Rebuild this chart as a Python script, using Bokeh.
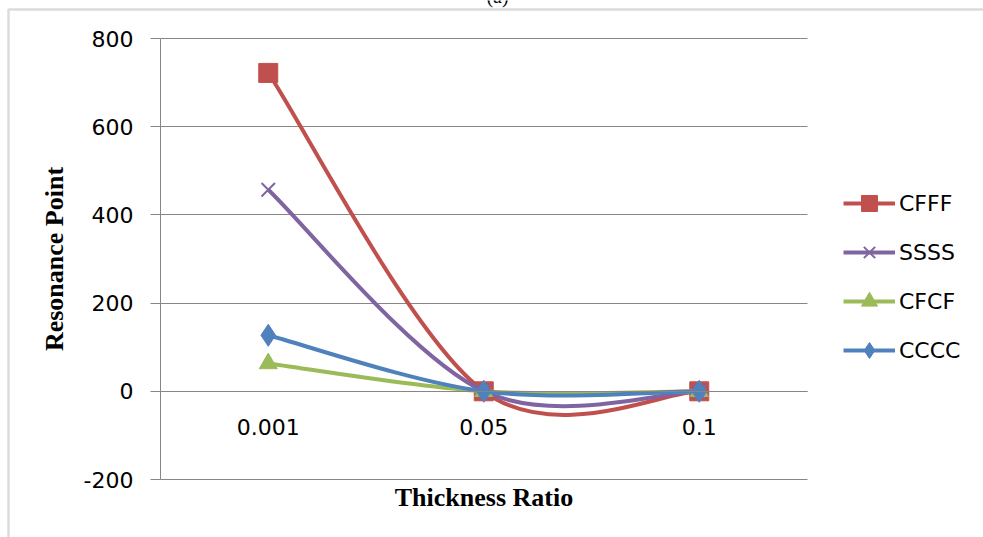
import numpy as np
from bokeh.plotting import figure
from bokeh.models import (ColumnDataSource, FixedTicker, LinearAxis, Legend, LegendItem,
                          Range1d, Label, BoxAnnotation)
from bokeh.embed import file_html
from bokeh.resources import INLINE

# ---- data ----
categories = ["0.001", "0.05", "0.1"]
series_names = ["CFFF", "SSSS", "CFCF", "CCCC"]
cfff = [722, 0, 0]
ssss = [457, 0, 0]
cfcf = [63, 0, 0]
cccc = [127, 0, 0]
y_ticks = [-200, 0, 200, 400, 600, 800]
y_tick_labels = ["-200", "0", "200", "400", "600", "800"]

series_values = [cfff, ssss, cfcf, cccc]
colors = ["#C0504D", "#8064A2", "#9BBB59", "#4F81BD"]
markers = ["square", "x", "triangle", "diamond"]
msizes = [19, 19, 18, 22]

xpos = [i + 0.5 for i in range(len(categories))]
n_cat = len(categories)

# ---- layout (pixels) ----
W, H = 983, 537
PL, PR, PT, PB = 160.0, 806.5, 38.0, 479.0   # plot-area edges
y_lo, y_hi = y_ticks[0], y_ticks[-1]
sx = (PR - PL) / n_cat
sy = (PB - PT) / (y_hi - y_lo)
x0r = 0 - PL / sx
x1r = n_cat + (W - PR) / sx
y1r = y_hi + PT / sy
y0r = y_lo - (H - PB) / sy


def px2x(px):
    return x0r + px / sx


def py2y(py):
    return y1r - py / sy


TICK_FONT = "DejaVu Sans"
TITLE_FONT = "Liberation Serif"

p = figure(width=W, height=H, output_backend="svg", toolbar_location=None,
           x_range=Range1d(x0r, x1r), y_range=Range1d(y0r, y1r),
           min_border=0, x_axis_location=None, y_axis_location=None)
p.background_fill_color = "white"
p.border_fill_color = "white"
p.outline_line_color = None

# y axis at the left edge of the plot area
yax = LinearAxis(ticker=FixedTicker(ticks=y_ticks), fixed_location=0, bounds=(y_lo, y_hi),
                 major_label_overrides={t: s for t, s in zip(y_ticks, y_tick_labels)},
                 axis_label="Resonance Point")
yax.axis_line_color = "#868686"
yax.major_tick_line_color = "#868686"
yax.major_tick_out = 10
yax.major_tick_in = 0
yax.minor_tick_line_color = None
yax.major_label_standoff = 17
yax.major_label_text_font = TICK_FONT
yax.major_label_text_font_size = "22px"
yax.major_label_text_color = "black"
yax.axis_label_text_font = TITLE_FONT
yax.axis_label_text_font_style = "bold"
yax.axis_label_text_font_size = "26px"
yax.axis_label_text_color = "black"
yax.axis_label_standoff = 12
p.add_layout(yax, "left")

# category axis crossing at 0
xax = LinearAxis(ticker=FixedTicker(ticks=xpos), fixed_location=0, bounds=(0, n_cat),
                 major_label_overrides={x: c for x, c in zip(xpos, categories)},
                 axis_label="Thickness Ratio")
xax.axis_line_color = "#868686"
xax.major_tick_line_color = None
xax.minor_tick_line_color = None
xax.major_label_standoff = 22
xax.major_label_text_font = TICK_FONT
xax.major_label_text_font_size = "22px"
xax.major_label_text_color = "black"
xax.axis_label_text_font = TITLE_FONT
xax.axis_label_text_font_style = "bold"
xax.axis_label_text_font_size = "26px"
xax.axis_label_text_color = "black"
xax.axis_label_standoff = 44
p.add_layout(xax, "below")

p.ygrid.ticker = FixedTicker(ticks=y_ticks)
p.ygrid.grid_line_color = "#868686"
p.ygrid.grid_line_width = 1
p.ygrid.bounds = (y_lo, y_hi)
p.ygrid.cross_bounds = (0, n_cat)
p.xgrid.grid_line_color = None


def excel_smooth(xs, ys, t=1.0 / 6.0):
    n = len(xs)
    d = dict(x0=[], y0=[], x1=[], y1=[], cx0=[], cy0=[], cx1=[], cy1=[])
    for i in range(n - 1):
        a = i - 1 if i > 0 else i
        b = i + 2 if i + 2 < n else i + 1
        d["x0"].append(xs[i]); d["y0"].append(ys[i])
        d["x1"].append(xs[i + 1]); d["y1"].append(ys[i + 1])
        d["cx0"].append(xs[i] + (xs[i + 1] - xs[a]) * t)
        d["cy0"].append(ys[i] + (ys[i + 1] - ys[a]) * t)
        d["cx1"].append(xs[i + 1] - (xs[b] - xs[i]) * t)
        d["cy1"].append(ys[i + 1] - (ys[b] - ys[i]) * t)
    return d


items = []
for name, vals, col, mk, ms in zip(series_names, series_values, colors, markers, msizes):
    src = ColumnDataSource(excel_smooth(xpos, vals))
    bz = p.bezier(x0="x0", y0="y0", x1="x1", y1="y1", cx0="cx0", cy0="cy0",
                  cx1="cx1", cy1="cy1", source=src, line_color=col, line_width=4)
    if mk == "x":
        sc = p.scatter(xpos, vals, marker=mk, size=ms, line_color=col, line_width=2)
    else:
        sc = p.scatter(xpos, vals, marker=mk, size=ms, fill_color=col,
                       line_color=col, line_width=1)
    items.append(LegendItem(label=name, renderers=[bz, sc]))

item_h = 40
spacing = 9
leg_top = 203 - item_h / 2
leg_bottom = leg_top + 4 * item_h + 3 * spacing
leg = Legend(items=items, location=(843, H - leg_bottom))
leg.glyph_width = 52
leg.glyph_height = item_h
leg.label_height = item_h
leg.spacing = spacing
leg.padding = 0
leg.margin = 0
leg.label_standoff = 4
leg.border_line_color = None
leg.background_fill_alpha = 0
leg.label_text_font = TICK_FONT
leg.label_text_font_size = "22px"
leg.label_text_color = "black"
p.add_layout(leg, "center")

# chart-area border and cropped panel caption
p.add_layout(BoxAnnotation(left=px2x(8), right=px2x(W + 40), top=py2y(9), bottom=py2y(H + 40),
                           fill_alpha=0, line_color="#8c8c8c", line_width=2.5))
p.add_layout(Label(x=px2x(497), y=py2y(6), text="(a)", text_align="center",
                   text_baseline="bottom", text_font=TITLE_FONT,
                   text_font_size="20px", text_color="black"))

open("out.html", "w").write(file_html(p, INLINE))
